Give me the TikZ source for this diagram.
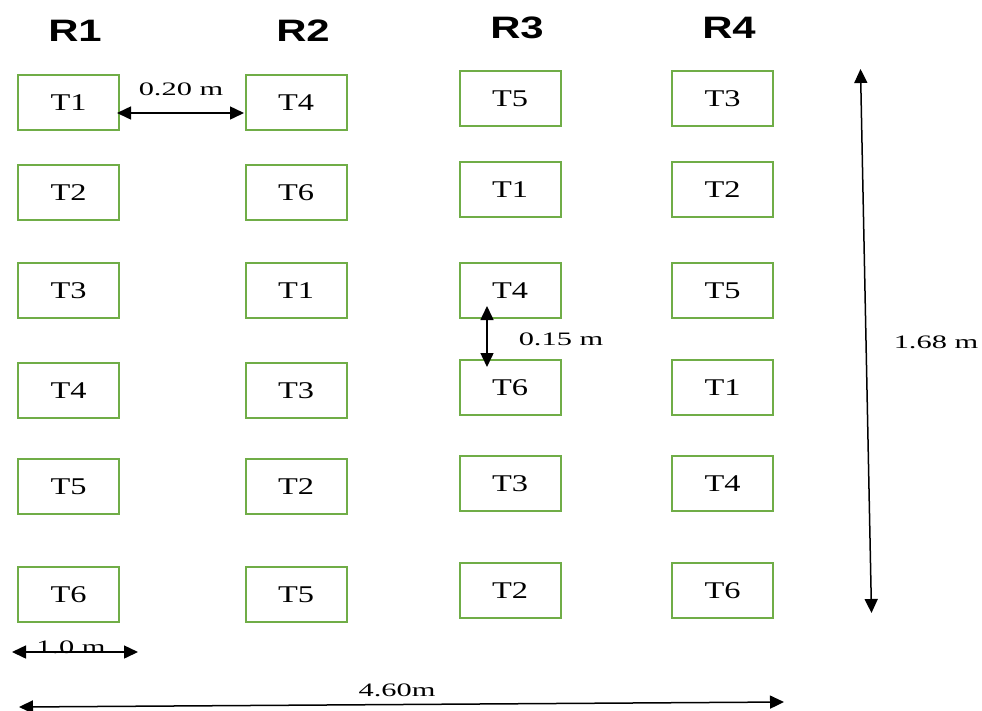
\documentclass[tikz,border=0pt]{standalone}
\usepackage{fontspec}
\setmainfont{Liberation Serif}
\newfontfamily\headfont{Liberation Sans}
\usetikzlibrary{arrows.meta}
\definecolor{boxgreen}{RGB}{112,173,71}
\newcommand\sx[1]{\scalebox{1.35}[1]{#1}}
\newcommand\dx[1]{\scalebox{1.6}[1]{#1}}
\tikzset{
  plot/.style={draw=boxgreen, line width=2pt, minimum width=101pt, minimum height=55pt, inner sep=0pt, font=\fontsize{24}{26}\selectfont},
  head/.style={font=\headfont\bfseries\fontsize{31}{33}\selectfont},
  dimline/.style={line width=1.5pt, {Triangle[length=14pt,width=13pt]}-{Triangle[length=14pt,width=13pt]}},
  dimlabel/.style={font=\fontsize{19}{21}\selectfont, inner sep=0pt}
}
\begin{document}
\begin{tikzpicture}[x=1pt,y=-1pt]
\useasboundingbox (0,0) rectangle (982,710);
% headers
\node[head] (R1) at (75,31) {\sx{R1}};
\node[head] (R2) at (303,31) {\sx{R2}};
\node[head] (R3) at (517,28) {\sx{R3}};
\node[head] (R4) at (729,28) {\sx{R4}};
% column R1
\node[plot] (a1) at (68.5,102.5) {\sx{T1}};
\node[plot] (a2) at (68.5,192.5) {\sx{T2}};
\node[plot] (a3) at (68.5,290.5) {\sx{T3}};
\node[plot] (a4) at (68.5,390.5) {\sx{T4}};
\node[plot] (a5) at (68.5,486.5) {\sx{T5}};
\node[plot] (a6) at (68.5,594.5) {\sx{T6}};
% column R2
\node[plot] (b1) at (296,102.5) {\sx{T4}};
\node[plot] (b2) at (296,192.5) {\sx{T6}};
\node[plot] (b3) at (296,290.5) {\sx{T1}};
\node[plot] (b4) at (296,390.5) {\sx{T3}};
\node[plot] (b5) at (296,486.5) {\sx{T2}};
\node[plot] (b6) at (296,594.5) {\sx{T5}};
% column R3
\node[plot] (c1) at (510,98.5) {\sx{T5}};
\node[plot] (c2) at (510,189.5) {\sx{T1}};
\node[plot] (c3) at (510,290.5) {\sx{T4}};
\node[plot] (c4) at (510,387.5) {\sx{T6}};
\node[plot] (c5) at (510,483.5) {\sx{T3}};
\node[plot] (c6) at (510,590.5) {\sx{T2}};
% column R4
\node[plot] (d1) at (722.5,98.5) {\sx{T3}};
\node[plot] (d2) at (722.5,189.5) {\sx{T2}};
\node[plot] (d3) at (722.5,290.5) {\sx{T5}};
\node[plot] (d4) at (722.5,387.5) {\sx{T1}};
\node[plot] (d5) at (722.5,483.5) {\sx{T4}};
\node[plot] (d6) at (722.5,590.5) {\sx{T6}};
% 0.20 m
\coordinate (h1) at (117,113);
\coordinate (h2) at (244,113);
\draw[dimline] (h1) -- (h2);
\node[dimlabel] (l020) at (181,89) {\dx{0.20 m}};
% 0.15 m
\coordinate (v1) at (487,306);
\coordinate (v2) at (487,367);
\draw[dimline] (v1) -- (v2);
\node[dimlabel] (l015) at (561,339) {\dx{0.15 m}};
% 1.68 m
\coordinate (t1) at (860.5,69);
\coordinate (t2) at (871.5,613);
\draw[dimline] (t1) -- (t2);
\node[dimlabel] (l168) at (936,342) {\dx{1.68 m}};
% 1.0 m
\coordinate (w1) at (12,652);
\coordinate (w2) at (138,652);
\draw[dimline] (w1) -- (w2);
\node[dimlabel] (l10) at (71,647) {\dx{1.0 m}};
% 4.60m
\coordinate (g1) at (19,707);
\coordinate (g2) at (784,702);
\draw[dimline] (g1) -- (g2);
\node[dimlabel] (l460) at (397,690) {\dx{4.60m}};
\end{tikzpicture}
\end{document}
